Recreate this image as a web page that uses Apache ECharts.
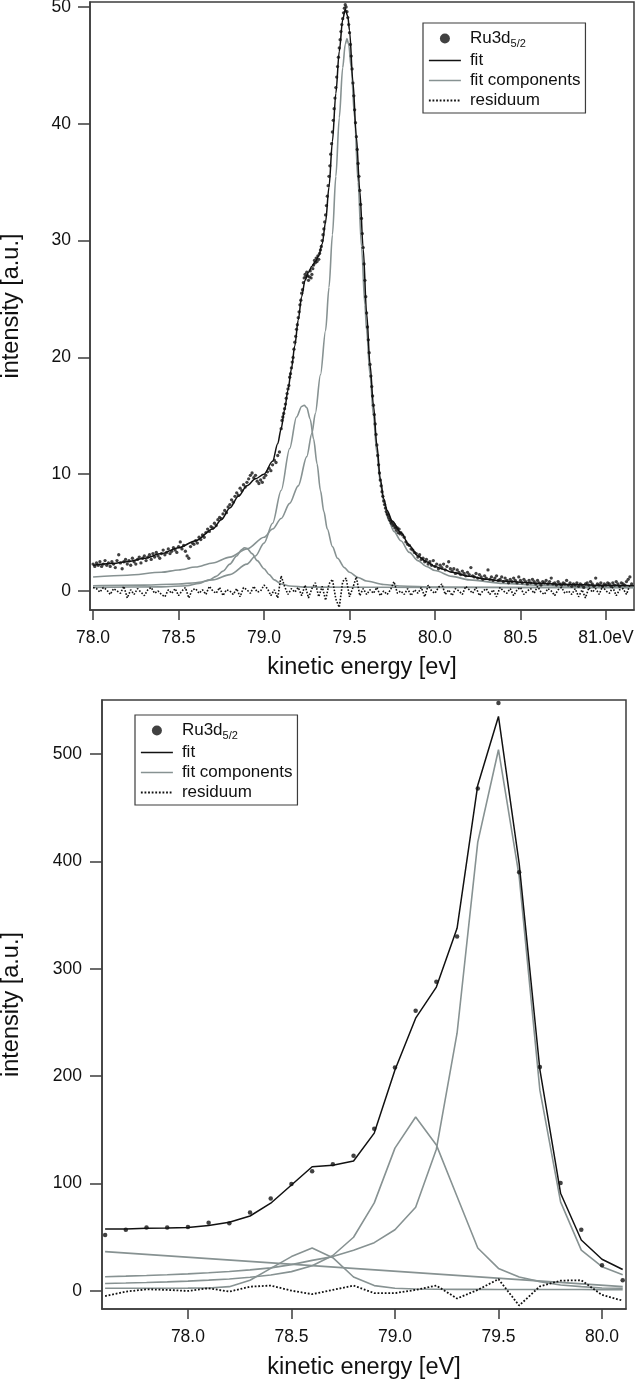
<!DOCTYPE html>
<html><head><meta charset="utf-8">
<script src="https://cdn.jsdelivr.net/npm/echarts@6.0.0/dist/echarts.min.js"></script>
<style>html,body{margin:0;padding:0;background:#fff}#c{width:640px;height:1391px}</style>
</head><body><div id="c"></div>
<script>
// ---------- top panel (high resolution spectrum) ----------
const topXTicks = [78.0, 78.5, 79.0, 79.5, 80.0, 80.5, 81.0];
const topXTickLabels = ['78.0', '78.5', '79.0', '79.5', '80.0', '80.5', '81.0eV'];
const topYTicks = [0, 10, 20, 30, 40, 50];

const topCounts = [
[78.00,2.3],[78.01,2.1],[78.02,2.4],[78.03,2.2],[78.04,2.5],[78.05,2.1],[78.06,2.3],[78.07,2.6],[78.08,2.2],[78.09,2.4],
[78.10,2.1],[78.11,2.5],[78.12,2.3],[78.13,2.0],[78.14,2.6],[78.15,3.1],[78.16,2.4],[78.17,1.9],[78.18,2.5],[78.19,2.7],
[78.20,2.3],[78.21,2.6],[78.22,2.2],[78.23,2.8],[78.24,2.5],[78.25,2.3],[78.26,2.7],[78.27,2.9],[78.28,2.4],[78.29,2.8],
[78.30,3.0],[78.31,2.6],[78.32,2.9],[78.33,3.1],[78.34,2.7],[78.35,3.2],[78.36,2.9],[78.37,3.3],[78.38,3.0],[78.39,2.8],
[78.40,3.2],[78.41,3.5],[78.42,3.1],[78.43,3.3],[78.44,3.6],[78.45,3.2],[78.46,3.4],[78.47,3.7],[78.48,3.5],[78.49,3.3],
[78.50,3.8],[78.51,4.2],[78.52,3.6],[78.53,3.9],[78.54,3.4],[78.55,3.0],[78.56,2.8],[78.57,3.8],[78.58,4.1],[78.59,4.0],
[78.60,4.3],[78.61,4.1],[78.62,4.6],[78.63,4.4],[78.64,4.8],[78.65,4.6],[78.66,5.0],[78.67,5.3],[78.68,5.1],[78.69,5.5],
[78.70,5.4],[78.71,5.8],[78.72,5.6],[78.73,6.1],[78.74,6.3],[78.75,6.2],[78.76,6.6],[78.77,6.9],[78.78,6.7],[78.79,7.2],
[78.80,7.4],[78.81,7.8],[78.82,7.6],[78.83,8.1],[78.84,8.4],[78.85,8.2],[78.86,8.8],[78.87,8.6],[78.88,9.1],[78.89,8.9],
[78.90,9.3],[78.91,9.6],[78.92,9.9],[78.93,10.1],[78.94,9.7],[78.95,9.9],[78.96,9.4],[78.97,9.2],[78.98,9.5],[78.99,9.3],
[79.00,9.7],[79.01,9.9],[79.02,10.2],[79.03,10.5],[79.04,10.3],[79.05,10.8],[79.06,11.2],[79.07,11.0],[79.08,11.6],[79.09,11.9],
[79.100,13.9],[79.105,14.6],[79.110,14.9],[79.115,15.2],[79.120,15.6],[79.125,16.0],[79.130,16.5],[79.135,16.9],[79.140,17.3],[79.145,17.6],
[79.150,18.3],[79.155,18.6],[79.160,19.1],[79.165,19.6],[79.170,20.0],[79.175,20.7],[79.180,21.3],[79.185,21.8],[79.190,22.4],[79.195,22.8],
[79.200,23.4],[79.205,23.9],[79.210,24.5],[79.215,24.9],[79.220,25.5],[79.225,25.8],[79.230,26.4],[79.235,26.8],[79.240,27.1],[79.245,26.9],
[79.250,27.3],[79.255,27.0],[79.260,26.6],[79.265,26.9],[79.270,27.4],[79.275,26.8],[79.280,27.1],[79.285,27.6],[79.290,27.9],[79.295,28.3],
[79.300,28.1],[79.305,28.5],[79.310,28.2],[79.315,28.7],[79.320,28.4],[79.325,28.9],[79.330,29.2],[79.335,29.5],[79.340,30.0],[79.345,30.5],
[79.350,31.0],[79.355,31.6],[79.360,32.2],[79.365,33.0],[79.370,33.8],[79.375,34.7],[79.380,35.5],[79.385,36.4],[79.390,37.4],[79.395,38.3],
[79.400,39.3],[79.405,40.3],[79.410,41.3],[79.415,42.2],[79.420,43.1],[79.425,44.0],[79.430,44.9],[79.435,45.7],[79.440,46.5],[79.445,47.2],
[79.450,47.9],[79.455,48.5],[79.460,49.0],[79.465,49.5],[79.470,49.9],[79.475,50.2],[79.480,50.0],[79.485,49.6],[79.490,49.1],[79.495,48.5],
[79.500,47.8],[79.505,46.8],[79.510,45.8],[79.515,44.7],[79.520,43.5],[79.525,42.4],[79.530,41.2],[79.535,40.1],[79.540,38.9],[79.545,37.8],
[79.550,36.6],[79.555,35.5],[79.560,34.3],[79.565,33.1],[79.570,31.9],[79.575,30.6],[79.580,29.4],[79.585,28.0],[79.590,26.6],[79.595,25.2],
[79.600,23.8],[79.605,22.6],[79.610,21.5],[79.615,20.4],[79.620,19.4],[79.625,18.4],[79.630,17.5],[79.635,16.7],[79.640,15.9],[79.645,15.1],
[79.650,14.3],[79.655,13.4],[79.660,12.5],[79.665,11.6],[79.670,10.8],[79.675,10.1],[79.680,9.5],[79.685,9.0],[79.690,8.5],[79.695,8.1],
[79.700,7.7],[79.705,7.4],[79.710,7.1],[79.715,6.8],[79.720,6.6],[79.725,6.5],[79.730,6.3],[79.735,6.1],[79.740,6.0],[79.745,5.8],
[79.750,5.9],[79.755,5.6],[79.760,5.7],[79.765,5.4],[79.770,5.5],[79.775,5.2],[79.780,5.4],[79.785,5.0],[79.790,5.3],[79.795,4.9],[79.800,5.0],
[79.81,4.8],[79.82,4.6],[79.83,4.2],[79.84,4.0],[79.85,3.9],[79.86,3.6],[79.87,3.5],[79.88,3.3],[79.89,3.2],[79.90,2.9],
[79.91,3.1],[79.92,2.7],[79.93,2.8],[79.94,2.5],[79.95,2.7],[79.96,2.3],[79.97,2.5],[79.98,2.2],[79.99,2.6],[80.00,2.1],
[80.01,2.3],[80.02,1.9],[80.03,2.2],[80.04,2.0],[80.05,2.3],[80.06,1.8],[80.07,2.1],[80.08,2.5],[80.09,1.9],[80.10,1.7],
[80.11,1.9],[80.12,1.5],[80.13,1.8],[80.14,1.6],[80.15,1.4],[80.16,1.7],[80.17,1.5],[80.18,1.3],[80.19,1.6],[80.20,1.4],
[80.21,2.0],[80.22,1.3],[80.23,1.2],[80.24,1.5],[80.25,1.1],[80.26,1.4],[80.27,1.2],[80.28,1.0],[80.29,1.3],[80.30,1.1],
[80.31,1.8],[80.32,1.0],[80.33,1.2],[80.34,0.9],[80.35,1.1],[80.36,1.3],[80.37,0.9],[80.38,1.0],[80.39,1.2],[80.40,0.8],
[80.41,1.1],[80.42,0.9],[80.43,0.7],[80.44,1.0],[80.45,0.8],[80.46,1.1],[80.47,0.9],[80.48,0.7],[80.49,1.2],[80.50,0.9],
[80.51,0.7],[80.52,1.0],[80.53,0.8],[80.54,0.6],[80.55,0.9],[80.56,0.7],[80.57,1.0],[80.58,0.8],[80.59,0.6],[80.60,0.9],
[80.61,0.7],[80.62,0.5],[80.63,0.8],[80.64,0.7],[80.65,0.9],[80.66,0.6],[80.67,0.8],[80.68,1.1],[80.69,0.6],[80.70,0.7],
[80.71,0.5],[80.72,0.8],[80.73,0.6],[80.74,0.5],[80.75,0.7],[80.76,0.6],[80.77,0.9],[80.78,0.5],[80.79,0.7],[80.80,0.4],
[80.81,0.6],[80.82,0.5],[80.83,0.7],[80.84,0.4],[80.85,0.6],[80.86,0.5],[80.87,0.3],[80.88,0.6],[80.89,0.7],[80.90,0.5],
[80.91,0.8],[80.92,0.6],[80.93,0.4],[80.94,1.1],[80.95,0.6],[80.96,0.5],[80.97,0.7],[80.98,0.4],[80.99,0.6],[81.00,0.5],
[81.01,0.7],[81.02,0.6],[81.03,0.4],[81.04,0.7],[81.05,0.5],[81.06,0.8],[81.07,0.6],[81.08,0.4],[81.09,0.7],[81.10,0.6],
[81.11,0.5],[81.12,0.8],[81.13,1.0],[81.14,1.2],[81.15,0.6]
];

const topFit = [
[78.00,2.2],[78.10,2.35],[78.20,2.5],[78.30,2.8],[78.40,3.2],[78.50,3.7],[78.60,4.3],[78.70,5.3],[78.75,6.1],[78.80,7.1],
[78.85,8.1],[78.90,9.0],[78.95,9.6],[79.00,10.0],[79.05,11.1],[79.08,12.6],[79.10,13.9],[79.12,15.5],[79.14,17.2],[79.16,19.0],
[79.18,21.0],[79.20,23.2],[79.22,25.2],[79.24,26.6],[79.26,27.3],[79.28,27.8],[79.30,28.2],[79.32,28.7],[79.34,29.7],[79.36,31.6],
[79.38,34.6],[79.40,38.5],[79.42,42.6],[79.44,46.2],[79.46,48.9],[79.475,49.8],[79.49,49.2],[79.50,48.0],[79.52,43.6],[79.54,38.9],
[79.56,34.3],[79.58,29.3],[79.60,23.8],[79.62,19.4],[79.64,15.9],[79.66,12.5],[79.68,9.6],[79.70,7.9],[79.72,6.9],[79.75,6.0],
[79.80,5.0],[79.85,3.9],[79.90,3.0],[79.95,2.5],[80.00,2.1],[80.05,1.85],[80.10,1.6],[80.20,1.25],[80.30,1.0],[80.40,0.85],
[80.50,0.75],[80.60,0.66],[80.80,0.55],[81.00,0.48],[81.164,0.45]
];

const topMainPeak = [
[78.00,1.2],[78.20,1.35],[78.40,1.6],[78.50,1.8],[78.60,2.05],[78.70,2.4],[78.80,2.9],[78.90,3.6],[79.00,4.6],[79.05,5.3],
[79.10,6.2],[79.15,7.5],[79.20,9.0],[79.25,11.5],[79.28,13.5],[79.30,15.2],[79.33,18.5],[79.36,22.3],[79.38,26.0],[79.40,30.5],
[79.42,35.5],[79.44,40.5],[79.46,44.8],[79.475,46.8],[79.485,47.3],[79.495,46.8],[79.51,44.8],[79.53,40.5],[79.55,35.0],[79.57,29.5],
[79.59,24.5],[79.60,22.3],[79.62,18.5],[79.64,15.0],[79.66,11.8],[79.68,9.3],[79.70,7.6],[79.73,6.0],[79.76,5.1],[79.80,4.3],
[79.85,3.3],[79.90,2.6],[79.95,2.1],[80.00,1.75],[80.10,1.25],[80.20,0.95],[80.40,0.65],[80.60,0.5],[80.80,0.42],[81.00,0.37],[81.164,0.34]
];

const topSecondPeak = [
[78.00,0.45],[78.30,0.5],[78.50,0.6],[78.60,0.7],[78.70,0.95],[78.80,1.4],[78.90,2.3],[78.95,3.0],[79.00,4.1],[79.05,5.8],
[79.10,8.6],[79.15,12.2],[79.19,14.9],[79.22,15.8],[79.235,15.9],[79.25,15.7],[79.27,14.7],[79.29,13.0],[79.31,10.9],[79.33,8.6],
[79.35,6.8],[79.37,5.3],[79.40,3.8],[79.43,2.8],[79.47,2.0],[79.50,1.6],[79.55,1.15],[79.60,0.85],[79.70,0.55],[79.80,0.42],
[80.00,0.33],[80.50,0.3],[81.164,0.28]
];

const topThirdPeak = [
[78.00,0.3],[78.40,0.35],[78.55,0.45],[78.62,0.65],[78.68,0.95],[78.72,1.25],[78.76,1.7],[78.80,2.3],[78.84,3.0],[78.87,3.55],
[78.885,3.7],[78.90,3.65],[78.93,3.2],[78.96,2.6],[79.00,1.9],[79.03,1.4],[79.06,0.95],[79.10,0.6],[79.15,0.42],[79.25,0.33],
[80.00,0.3],[81.164,0.3]
];

const topResiduum = [
[78.00,0.3],[78.02,0.2],[78.04,-0.1],[78.06,0.3],[78.08,0.1],[78.10,-0.3],[78.12,0.2],[78.14,0.0],[78.16,-0.2],[78.18,0.4],
[78.20,-0.6],[78.22,0.1],[78.24,-0.3],[78.26,0.2],[78.28,-0.1],[78.30,-0.4],[78.32,0.1],[78.34,0.3],[78.36,-0.2],[78.38,0.0],
[78.40,-0.3],[78.42,-0.5],[78.44,0.1],[78.46,-0.2],[78.48,0.2],[78.50,-0.4],[78.52,0.0],[78.54,0.3],[78.56,-0.6],[78.58,0.1],
[78.60,0.2],[78.62,-0.2],[78.64,0.1],[78.66,-0.3],[78.68,0.4],[78.70,0.0],[78.72,-0.2],[78.74,0.3],[78.76,-0.4],[78.78,0.1],
[78.80,0.0],[78.82,-0.3],[78.84,0.2],[78.86,-0.5],[78.88,0.3],[78.90,0.1],[78.92,-0.2],[78.94,0.4],[78.96,-0.1],[78.98,0.0],
[79.00,0.5],[79.02,0.2],[79.04,-0.4],[79.06,0.1],[79.08,-0.6],[79.10,1.3],[79.12,0.4],[79.14,-0.3],[79.16,0.2],[79.18,-0.1],
[79.20,0.3],[79.22,-0.4],[79.24,0.5],[79.26,-0.6],[79.28,0.2],[79.30,0.7],[79.32,-0.5],[79.34,0.4],[79.36,-0.8],[79.38,0.6],
[79.40,1.0],[79.42,-0.7],[79.44,-1.4],[79.46,0.8],[79.48,1.1],[79.50,-0.5],[79.52,0.3],[79.54,1.2],[79.56,-0.4],[79.58,0.2],
[79.60,-0.3],[79.62,0.1],[79.64,-0.2],[79.66,0.3],[79.68,-0.4],[79.70,0.0],[79.72,-0.3],[79.74,0.1],[79.76,0.8],[79.78,-0.2],
[79.80,0.0],[79.82,-0.3],[79.84,0.2],[79.86,-0.4],[79.88,0.1],[79.90,-0.2],[79.92,0.3],[79.94,-0.5],[79.96,0.5],[79.98,0.0],
[80.00,-0.2],[80.02,0.3],[80.04,0.6],[80.06,-0.3],[80.08,0.1],[80.10,-0.4],[80.12,0.2],[80.14,0.0],[80.16,-0.3],[80.18,0.4],
[80.20,0.1],[80.22,-0.2],[80.24,0.3],[80.26,-0.4],[80.28,0.0],[80.30,0.2],[80.32,-0.3],[80.34,0.1],[80.36,-0.5],[80.38,0.3],
[80.40,0.0],[80.42,-0.2],[80.44,0.2],[80.46,-0.4],[80.48,0.1],[80.50,0.3],[80.52,-0.3],[80.54,0.0],[80.56,0.2],[80.58,-0.2],
[80.60,0.4],[80.62,-0.1],[80.64,-0.3],[80.66,0.2],[80.68,0.0],[80.70,-0.4],[80.72,0.1],[80.74,0.3],[80.76,-0.2],[80.78,0.0],
[80.80,-0.3],[80.82,0.2],[80.84,-0.5],[80.86,0.1],[80.88,-0.6],[80.90,0.3],[80.92,-0.1],[80.94,0.2],[80.96,-0.3],[80.98,0.4],
[81.00,0.0],[81.02,-0.2],[81.04,0.3],[81.06,-0.4],[81.08,0.1],[81.10,0.2],[81.12,-0.3],[81.14,0.5]
];

// ---------- bottom panel (0.1 eV steps) ----------
const botXTicks = [78.0, 78.5, 79.0, 79.5, 80.0];
const botXTickLabels = ['78.0', '78.5', '79.0', '79.5', '80.0'];
const botYTicks = [0, 100, 200, 300, 400, 500];
const botEnergy = [77.6,77.7,77.8,77.9,78.0,78.1,78.2,78.3,78.4,78.5,78.6,78.7,78.8,78.9,79.0,79.1,79.2,79.3,79.4,79.5,79.6,79.7,79.8,79.9,80.0,80.1];
const botCounts = [52,57,59,59,59.5,63.6,63,73,86,99.6,111.4,118,126,151,208,261,288,330,468,547.5,390,208.6,100.6,57,24,10];
const botFit = [57.7,57.7,58.3,58.6,59.2,61,64,69.8,81.7,98.7,115.7,117,121,147,205.8,254,283,337.7,471,535,398,206,91,47.5,29.5,20];
const botMainPeak = [13.3,13.8,14.4,15.1,15.9,16.9,18.1,19.6,21.5,24.5,28.5,32,38,45,57,78,132,240,418,504,386,187,83,38,22.6,15];
const botSecondPeak = [7,7.4,7.9,8.5,9.2,10.1,11.2,12.7,14.8,18,23.5,33,50,82,133,162,136,88,40,21,13,8.7,5.6,4,2.8,2.5];
const botThirdPeak = [2.5,2.5,2.5,2.5,2.6,2.8,4,10,21,32,40,31,13,5,2.5,1.8,1.6,1.5,1.5,1.4,1.4,1.3,1.3,1.3,1.2,1.2];
const botLinearEnds = [[77.6,36.6],[80.1,4.0]];
const botResiduum = [-4.7,-0.6,1.5,1,0,2.5,-0.6,4,5,0.3,-3,1,5,-2,-2,1,5,-7,1,11,-13.6,4.3,9.6,10,-3.7,-9];

const seriesNames = ['Ru3d5/2', 'fit', 'fit components', 'residuum'];

// ---------- styles ----------
const FONT = '"Liberation Sans", Arial, Helvetica, sans-serif';
const FRAME = '#3c3c3c';
const INK = '#111111';
const GRAY = '#879292';
const CLEAR = 'rgba(0,0,0,0)';

const pairs = (xs, ys) => xs.map((x, i) => [x, ys[i]]);

function xAxisCfg(grid, min, max, ticks, labels, title, gap) {
  return {
    type: 'value', gridIndex: grid, min: min, max: max,
    name: title, nameLocation: 'middle', nameGap: gap,
    nameTextStyle: {fontSize: 23.5, color: INK, fontFamily: FONT},
    axisLine: {show: true, onZero: false, lineStyle: {color: FRAME, width: 1.5}},
    axisTick: {show: true, length: 10, customValues: ticks, lineStyle: {color: FRAME, width: 1.5}},
    axisLabel: {customValues: ticks, margin: 19, fontSize: 17.5, color: INK, fontFamily: FONT,
      formatter: v => { const i = ticks.findIndex(t => Math.abs(t - v) < 1e-6); return i >= 0 ? labels[i] : ''; }},
    splitLine: {show: false}
  };
}
function yAxisCfg(grid, min, max, ticks, gap, margin) {
  return {
    type: 'value', gridIndex: grid, min: min, max: max,
    name: 'intensity [a.u.]', nameLocation: 'middle', nameGap: gap, nameRotate: 90,
    nameTextStyle: {fontSize: 23.5, color: INK, fontFamily: FONT},
    axisLine: {show: true, onZero: false, lineStyle: {color: FRAME, width: 1.5}},
    axisTick: {show: true, length: 12, customValues: ticks, lineStyle: {color: FRAME, width: 1.5}},
    axisLabel: {customValues: ticks, margin: margin, fontSize: 17.5, color: INK, fontFamily: FONT,
      formatter: v => String(Math.round(v))},
    splitLine: {show: false}
  };
}
function legendCfg(left, top) {
  return {
    left: left, top: top, orient: 'vertical', selectedMode: false,
    padding: [5, 5, 4, 5], itemGap: 3, itemWidth: 32, itemHeight: 10,
    borderColor: FRAME, borderWidth: 1.2, backgroundColor: '#fff',
    data: [
      {name: seriesNames[0], icon: 'circle', itemStyle: {color: INK}},
      {name: seriesNames[1], itemStyle: {color: CLEAR, borderWidth: 0}, lineStyle: {width: 1.5, color: INK}},
      {name: seriesNames[2], itemStyle: {color: CLEAR, borderWidth: 0}, lineStyle: {width: 1.6, color: GRAY}},
      {name: seriesNames[3], itemStyle: {color: CLEAR, borderWidth: 0}, lineStyle: {width: 1.8, color: INK, type: 'dotted'}}
    ],
    formatter: n => n === seriesNames[0] ? '{m|Ru3d}{s|5/2}' : '{m|' + n + '}',
    textStyle: {
      color: INK, fontFamily: FONT, fontSize: 17, lineHeight: 17,
      rich: {
        m: {fontSize: 17, lineHeight: 17, verticalAlign: 'top', padding: [0, 0, 0, 4], color: INK, fontFamily: FONT},
        s: {fontSize: 11, lineHeight: 11, padding: [10, 0, 0, 0], color: INK, fontFamily: FONT}
      }
    }
  };
}
function lineSeries(name, data, xi, color, width, extra) {
  return Object.assign({
    type: 'line', name: name, data: data, xAxisIndex: xi, yAxisIndex: xi,
    symbol: 'none', showSymbol: false, clip: true,
    lineStyle: {color: color, width: width}, itemStyle: {color: color}
  }, extra || {});
}

const chart = echarts.init(document.getElementById('c'), null, {renderer: 'canvas'});
chart.setOption({
  animation: false,
  backgroundColor: '#fff',
  textStyle: {fontFamily: FONT},
  grid: [
    {left: 90, top: 2, width: 544, height: 608, show: true, borderColor: FRAME, borderWidth: 1.5,
      backgroundColor: 'transparent', containLabel: false, outerBoundsMode: 'none'},
    {left: 102, top: 700, width: 524, height: 609, show: true, borderColor: FRAME, borderWidth: 1.5,
      backgroundColor: 'transparent', containLabel: false, outerBoundsMode: 'none'}
  ],
  xAxis: [
    xAxisCfg(0, 77.982, 81.164, topXTicks, topXTickLabels, 'kinetic energy [ev]', 46),
    xAxisCfg(1, 77.585, 80.116, botXTicks, botXTickLabels, 'kinetic energy [eV]', 47)
  ],
  yAxis: [
    yAxisCfg(0, -1.63, 50.43, topYTicks, 66, 19),
    yAxisCfg(1, -16.8, 550.3, botYTicks, 78, 20)
  ],
  legend: [legendCfg(423, 23), legendCfg(135, 715)],
  series: [
    lineSeries('fit components', topMainPeak, 0, GRAY, 1.6, {smooth: 0.3, smoothMonotone: 'x'}),
    lineSeries('fit components', topSecondPeak, 0, GRAY, 1.6, {smooth: 0.3, smoothMonotone: 'x'}),
    lineSeries('fit components', topThirdPeak, 0, GRAY, 1.6, {smooth: 0.3, smoothMonotone: 'x'}),
    lineSeries('fit', topFit, 0, INK, 1.5, {smooth: 0.3, smoothMonotone: 'x', z: 3}),
    lineSeries('residuum', topResiduum, 0, INK, 1.6, {lineStyle: {color: INK, width: 1.6, type: 'dotted'}, z: 3}),
    {type: 'scatter', name: 'Ru3d5/2', data: topCounts, xAxisIndex: 0, yAxisIndex: 0, symbol: 'circle', symbolSize: 3.3,
      itemStyle: {color: INK}, z: 4, clip: true},

    lineSeries('fit components', botLinearEnds, 1, GRAY, 1.6),
    lineSeries('fit components', pairs(botEnergy, botMainPeak), 1, GRAY, 1.6),
    lineSeries('fit components', pairs(botEnergy, botSecondPeak), 1, GRAY, 1.6),
    lineSeries('fit components', pairs(botEnergy, botThirdPeak), 1, GRAY, 1.6),
    lineSeries('fit', pairs(botEnergy, botFit), 1, INK, 1.5, {z: 3}),
    lineSeries('residuum', pairs(botEnergy, botResiduum), 1, INK, 1.8, {lineStyle: {color: INK, width: 1.8, type: 'dotted'}, z: 3}),
    {type: 'scatter', name: 'Ru3d5/2', data: pairs(botEnergy, botCounts), xAxisIndex: 1, yAxisIndex: 1, symbol: 'circle', symbolSize: 4.5,
      itemStyle: {color: INK}, z: 4, clip: false}
  ]
});
</script>
</body></html>
